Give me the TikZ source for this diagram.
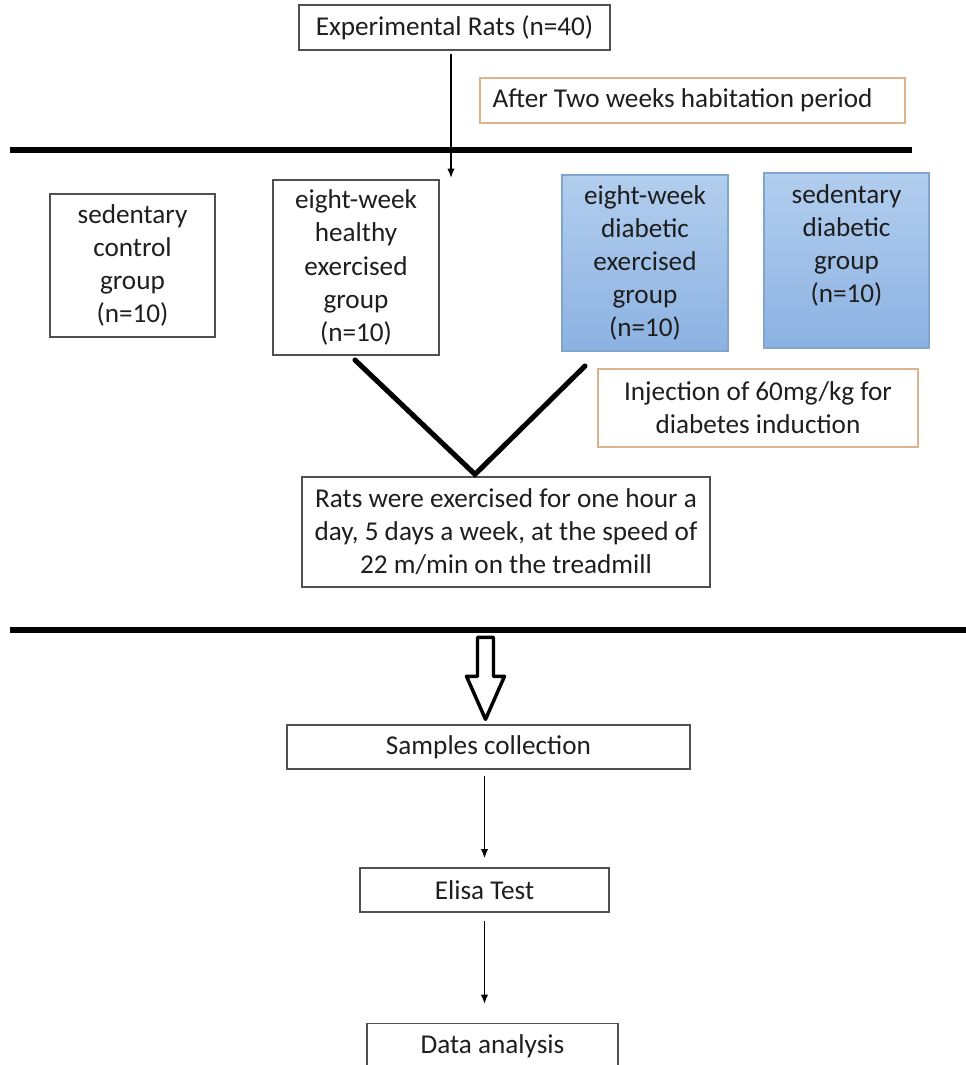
\documentclass[tikz,border=0pt]{standalone}
\usepackage{fontspec}
\setmainfont{Carlito}
\usetikzlibrary{arrows.meta,calc}
\definecolor{boxgray}{RGB}{80,80,80}
\definecolor{txtcol}{RGB}{30,30,30}
\definecolor{tanline}{RGB}{222,178,140}
\definecolor{bluetop}{RGB}{178,206,238}
\definecolor{bluebot}{RGB}{140,178,226}
\definecolor{blueline}{RGB}{130,165,205}
\newcommand\pxu{0.75pt}
\begin{document}
\begin{tikzpicture}[x=0.75pt,y=-0.75pt,
  every node/.style={text=txtcol, font=\fontsize{20.4}{24.8}\selectfont, inner sep=0pt},
  plainbox/.style={draw=boxgray, line width=1pt, align=center},
  tanbox/.style={draw=tanline, line width=1pt, align=center},
  bluebox/.style={draw=blueline, line width=0.8pt, top color=bluetop, bottom color=bluebot, align=center},
  bar/.style={line width=3.8pt, black},
  vline/.style={line width=3.8pt, black, line cap=round},
  thinarrow/.style={line width=1.1pt, black, -{Latex[length=7pt,width=5.5pt]}},
  blockarrow/.style={line width=2.6pt, black, line join=round, fill=white}
]
\useasboundingbox (0,0) rectangle (966,1065);
\clip (0,0) rectangle (966,1065);

% top box
\node[plainbox, minimum width=311*\pxu, minimum height=45*\pxu] (exp) at (454.5,27.5) {Experimental Rats (n=40)};
\node[tanbox, minimum width=425*\pxu, minimum height=45*\pxu] (habit) at (692.5,100.5) {};
\node (habittxt) at ($(habit.center)+(-10,0)$) {After Two weeks habitation period};

% divider lines
\coordinate (barAL) at (10,150);
\coordinate (barAR) at (912,150);
\draw[bar] (barAL) -- (barAR);

% groups
\node[plainbox, minimum width=165*\pxu, minimum height=143*\pxu] (sedctl) at (132.5,265.5)
  {sedentary\\control\\group\\(n=10)};
\node[plainbox, minimum width=166*\pxu, minimum height=175*\pxu] (healthy) at (356,267.5)
  {eight-week\\healthy\\exercised\\group\\(n=10)};
\node[bluebox, minimum width=166*\pxu, minimum height=176*\pxu] (diabex) at (645,263)
  {eight-week\\diabetic\\exercised\\group\\(n=10)};
\node[bluebox, minimum width=165*\pxu, minimum height=175*\pxu] (seddiab) at (846.5,260.5) {};
\node[align=center] (seddiabtxt) at ($(seddiab.center)+(0,-15)$)
  {sedentary\\diabetic\\group\\(n=10)};
\node[tanbox, minimum width=320*\pxu, minimum height=78*\pxu] (inject) at (758,408)
  {Injection of 60mg/kg for\\diabetes induction};

% arrow from experimental rats
\coordinate (a1end) at (451,178);
\draw[thinarrow] ($(exp.south)+(-3.5,3)$) -- (a1end);

% treadmill box
\node[plainbox, minimum width=408*\pxu, minimum height=110*\pxu] (tread) at (506,532)
  {Rats were exercised for one hour a\\day, 5 days a week, at the speed of\\22 m/min on the treadmill};

% V connector
\coordinate (vL) at (355,360);
\coordinate (vR) at (585,366);
\draw[vline] (vL) -- ($(tread.north)+(-31,-2)$) -- (vR);

% second divider
\coordinate (barBL) at (10,630);
\coordinate (barBR) at (966,630);
\draw[bar] (barBL) -- (barBR);

% lower chain
\node[plainbox, minimum width=403*\pxu, minimum height=44*\pxu] (samples) at (488.5,747) {Samples collection};
\node[plainbox, minimum width=249*\pxu, minimum height=44*\pxu] (elisa) at (484.5,890) {Elisa Test};
\node[plainbox, minimum width=251*\pxu, minimum height=70*\pxu, anchor=north] (data) at (492.5,1023) {};
\node (datatxt) at (492.5,1046) {Data analysis};

% block arrow
\coordinate (bt) at ($(samples.north)+(-3,-5)$);
\draw[blockarrow] ($(bt)+(-8,-82)$) -- ($(bt)+(8,-82)$) -- ($(bt)+(8,-43)$) -- ($(bt)+(19,-43)$)
  -- (bt) -- ($(bt)+(-19,-43)$) -- ($(bt)+(-8,-43)$) -- cycle;

\draw[thinarrow] ($(samples.south -| elisa.north)+(0,6)$) -- ($(elisa.north)+(0,-9)$);
\draw[thinarrow] ($(elisa.south)+(0,8)$) -- ($(data.north -| elisa.south)+(0,-19)$);
\end{tikzpicture}
\end{document}
